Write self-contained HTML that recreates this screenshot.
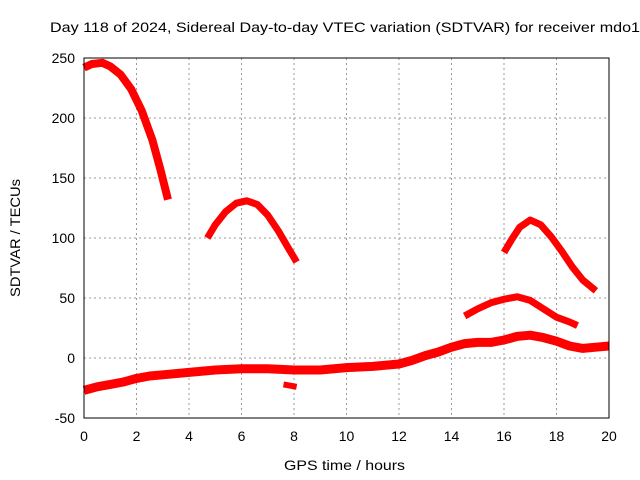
<!DOCTYPE html>
<html><head><meta charset="utf-8"><style>
body{margin:0;background:#fff}
svg{display:block;font-family:"Liberation Sans",sans-serif}
</style></head><body>
<svg id="c" width="640" height="480">
<text x="50" y="32" font-size="14" textLength="590" lengthAdjust="spacingAndGlyphs">Day 118 of 2024, Sidereal Day-to-day VTEC variation (SDTVAR) for receiver mdo1</text>
<text x="284" y="470" font-size="14" textLength="121" lengthAdjust="spacingAndGlyphs">GPS time / hours</text>
<text transform="translate(20,238) rotate(-90)" font-size="14" text-anchor="middle" textLength="118" lengthAdjust="spacingAndGlyphs">SDTVAR / TECUs</text>
<g id="grid"></g><g id="series"></g>
<rect x="84" y="58" width="525" height="360" fill="none" stroke="#000" stroke-width="1"/>
</svg>
<script>
const xTicks=[0,2,4,6,8,10,12,14,16,18,20];
const yTicks=[-50,0,50,100,150,200,250];
const s1x=[0,0.3,0.7,1.0,1.4,1.8,2.2,2.6,2.9,3.2];
const s1y=[242,245,246,243,236,224,206,182,158,132];
const s2x=[4.7,5.0,5.4,5.8,6.2,6.6,7.0,7.4,7.8,8.1];
const s2y=[100,111,122,129,131,128,119,106,91,80];
const s3x=[16.0,16.3,16.6,17.0,17.4,17.8,18.2,18.6,19.0,19.5];
const s3y=[88,99,109,115,111,101,89,76,65,56];
const s4x=[14.5,15,15.5,16,16.5,17,17.5,18,18.5,18.8];
const s4y=[35,41,46,49,51,48,41,34,30,27];
const s5x=[0,0.5,1,1.5,2,2.5,3,4,5,6,7,8,9,10,11,12,12.5,13,13.5,14,14.5,15,15.5,16,16.5,17,17.5,18,18.5,19,19.5,20];
const s5y=[-27,-24,-22,-20,-17,-15,-14,-12,-10,-9,-9,-10,-10,-8,-7,-5,-2,2,5,9,12,13,13,15,18,19,17,14,10,8,9,10];
const s6x=[7.6,8.1];
const s6y=[-22,-24];
const X=v=>84+v*525/20, Y=v=>358-v*1.2;
const NS="http://www.w3.org/2000/svg";
const g=document.getElementById('grid'), sg=document.getElementById('series');
function mk(t,a,p){const e=document.createElementNS(NS,t);for(const k in a)e.setAttribute(k,a[k]);p.appendChild(e);return e;}
xTicks.forEach(v=>{
 if(v>0&&v<20){const l=mk('line',{x1:X(v),x2:X(v),y1:58,y2:418,stroke:'#999','stroke-dasharray':'2,3'},g);
 
 }
 const t=mk('text',{x:X(v),y:441,'font-size':14,'text-anchor':'middle'},g);t.textContent=v;
 
 
});
yTicks.forEach(v=>{
 if(v>-50&&v<250){const l=mk('line',{x1:84,x2:609,y1:Y(v),y2:Y(v),stroke:'#999','stroke-dasharray':'2,3'},g);
 
 }
 const t=mk('text',{x:75,y:Y(v)+5,'font-size':14,'text-anchor':'end'},g);t.textContent=v;
 
 
});
function series(xs,ys,w,name){
 const p=mk('polyline',{points:xs.map((x,i)=>X(x)+','+Y(ys[i])).join(' '),fill:'none',stroke:'#f00','stroke-width':w,'stroke-linejoin':'round'},sg);
 
 
}
series(s1x,s1y,8,'series-arc-1');
series(s2x,s2y,7,'series-arc-2');
series(s3x,s3y,7,'series-arc-3');
series(s4x,s4y,7,'series-arc-4');
series(s5x,s5y,9,'series-baseline');
series(s6x,s6y,6,'series-short-segment');
</script>
</body></html>
